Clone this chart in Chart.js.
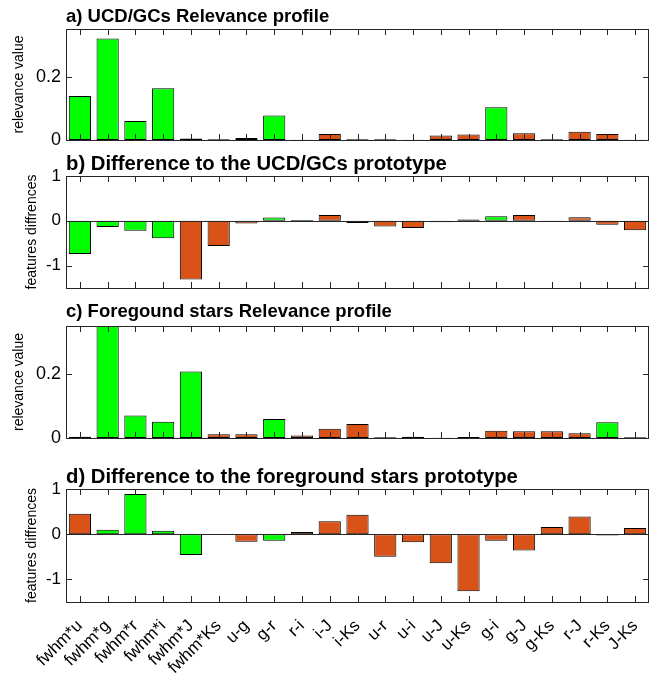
<!DOCTYPE html>
<html>
<head>
<meta charset="utf-8">
<script src="https://cdn.jsdelivr.net/npm/chart.js@4.4.0/dist/chart.umd.min.js"></script>
<style>
  html, body { margin: 0; padding: 0; background: #fff; }
  #wrap { position: relative; width: 650px; height: 676px; }
  .pane { position: absolute; left: 0; width: 650px; }
</style>
</head>
<body>
<div id="wrap">
  <div class="pane" style="top:0;height:150px"><canvas id="cA"></canvas></div>
  <div class="pane" style="top:150px;height:150px"><canvas id="cB"></canvas></div>
  <div class="pane" style="top:300px;height:150px"><canvas id="cC"></canvas></div>
  <div class="pane" style="top:450px;height:226px"><canvas id="cD"></canvas></div>
</div>
<script>
// ---------------- data ----------------
const categories = ['fwhm*u','fwhm*g','fwhm*r','fwhm*i','fwhm*J','fwhm*Ks','u-g','g-r','r-i','i-J','i-Ks',
                    'u-r','u-i','u-J','u-Ks','g-i','g-J','g-Ks','r-J','r-Ks','J-Ks'];

const relevanceUCD = [0.139, 0.320, 0.060, 0.163, 0.005, 0.002, 0.006, 0.077, 0.001, 0.019, 0.002,
                      0.002, 0.001, 0.014, 0.017, 0.103, 0.021, 0.002, 0.026, 0.019, 0.001];
const diffUCD      = [-0.74, -0.14, -0.22, -0.39, -1.31, -0.56, -0.06, 0.075, 0.02, 0.127, -0.05,
                      -0.13, -0.16, -0.03, 0.03, 0.10, 0.127, -0.02, 0.08, -0.09, -0.21];
// group 1 = first colour (green), group 2 = second colour (orange)
const groupUCD     = [1, 1, 1, 1, 2, 2, 2, 1, 2, 2, 2, 2, 2, 2, 2, 1, 2, 2, 2, 2, 2];

const relevanceFG  = [0.004, 0.37, 0.070, 0.051, 0.208, 0.012, 0.012, 0.059, 0.008, 0.029, 0.044,
                      0.002, 0.004, 0.001, 0.003, 0.023, 0.021, 0.021, 0.015, 0.049, 0.002];
const diffFG       = [0.45, 0.10, 0.89, 0.075, -0.46, -0.015, -0.165, -0.143, 0.05, 0.286, 0.43,
                      -0.50, -0.18, -0.64, -1.26, -0.143, -0.36, 0.158, 0.39, -0.03, 0.135];
const groupFG      = [2, 1, 1, 1, 1, 2, 2, 1, 2, 2, 2, 2, 2, 2, 2, 2, 2, 2, 2, 1, 2];

const yTicksRelevance = [0, 0.2];
const yTicksDiff      = [-1, 0, 1];

const panelTitles = ['a) UCD/GCs Relevance profile',
                     'b) Difference to the UCD/GCs prototype',
                     'c) Foregound stars Relevance profile',
                     'd) Difference to the foreground stars prototype'];
const yTitles = ['relevance value', 'features diffrences'];

// ---------------- styling ----------------
const GREEN = '#00ff00';
const ORANGE = '#d95319';
const AXIS = '#262626';
const FONT = '"Liberation Sans", Arial, Helvetica, sans-serif';
const groupColor = g => g === 1 ? GREEN : ORANGE;

const framePlugin = {
  id: 'frame',
  afterDatasetsDraw(chart, args, opts) {
    const { ctx, chartArea: a } = chart;
    const x = chart.scales.x, y = chart.scales.y;
    ctx.save();
    ctx.strokeStyle = AXIS;
    ctx.lineWidth = 1;
    ctx.beginPath();
    const y0 = Math.round(y.getPixelForValue(0)) + 0.5;
    ctx.moveTo(a.left, y0); ctx.lineTo(a.right, y0);
    for (let i = 0; i < x.ticks.length; i++) {
      const px = Math.round(x.getPixelForTick(i)) + 0.5;
      ctx.moveTo(px, a.top); ctx.lineTo(px, a.top + 6);
      ctx.moveTo(px, a.bottom); ctx.lineTo(px, a.bottom - 6);
    }
    for (let i = 0; i < y.ticks.length; i++) {
      const py = Math.round(y.getPixelForTick(i)) + 0.5;
      ctx.moveTo(a.left, py); ctx.lineTo(a.left + 6, py);
      ctx.moveTo(a.right, py); ctx.lineTo(a.right - 6, py);
    }
    ctx.stroke();
    const L = Math.round(a.left) + 0.5, T = Math.round(a.top) + 0.5;
    const R = Math.round(a.right) - 0.5, B = Math.round(a.bottom) + 0.5;
    ctx.strokeRect(L, T, R - L, B - T);
    ctx.fillStyle = '#000';
    ctx.font = 'bold ' + opts.size + 'px ' + FONT;
    ctx.textAlign = 'left';
    ctx.textBaseline = 'alphabetic';
    ctx.fillText(opts.text, a.left, a.top - opts.gap);
    ctx.restore();
  }
};

function makePanel(id, values, groups, yTicks, yMin, yMax, title, titleSize, titleGap, yTitle, yTitlePad, tickFont, pad, showX) {
  return new Chart(document.getElementById(id), {
    type: 'bar',
    data: {
      labels: categories,
      datasets: [{
        data: values,
        backgroundColor: groups.map(groupColor),
        borderColor: '#000',
        borderWidth: 1,
        borderSkipped: false,
        barPercentage: 0.8,
        categoryPercentage: 1.0
      }]
    },
    options: {
      responsive: true,
      maintainAspectRatio: false,
      animation: false,
      events: [],
      layout: { padding: { left: 0, right: 1, top: pad.top, bottom: pad.bottom } },
      plugins: {
        legend: { display: false },
        tooltip: { enabled: false },
        title: { display: false },
        frame: { text: title, gap: titleGap, size: titleSize }
      },
      scales: {
        x: {
          type: 'category',
          offset: true,
          grid: { display: false, drawTicks: false },
          border: { display: false },
          ticks: {
            display: showX,
            autoSkip: false,
            minRotation: 45,
            maxRotation: 45,
            padding: 14,
            color: '#000',
            font: { family: FONT, size: 17 }
          },
          afterFit(scale) {
            scale.height = showX ? pad.xHeight : 0;
            scale.paddingLeft = 0;
            scale.paddingRight = 0;
          }
        },
        y: {
          min: yMin,
          max: yMax,
          grid: { display: false, drawTicks: false },
          border: { display: false },
          ticks: {
            padding: 5,
            color: '#000',
            font: { family: FONT, size: tickFont },
            callback: v => String(v)
          },
          afterBuildTicks(scale) { scale.ticks = yTicks.map(v => ({ value: v })); },
          afterFit(scale) {
            scale.width = 66;
            scale.paddingTop = 0;
            scale.paddingBottom = 0;
          },
          title: {
            display: true,
            text: yTitle,
            color: '#000',
            font: { family: FONT, size: 14 },
            padding: { top: yTitlePad, bottom: 0 }
          }
        }
      }
    },
    plugins: [framePlugin]
  });
}

makePanel('cA', relevanceUCD, groupUCD, yTicksRelevance, 0, 0.35, panelTitles[0], 18.5, 7, yTitles[0], 11, 18,
          { top: 29, bottom: 10 }, false);
makePanel('cB', diffUCD, groupUCD, yTicksDiff, -1.5, 1, panelTitles[1], 20.3, 6, yTitles[1], 24, 17,
          { top: 26, bottom: 12 }, false);
makePanel('cC', relevanceFG, groupFG, yTicksRelevance, 0, 0.35, panelTitles[2], 18.5, 9, yTitles[0], 11, 18,
          { top: 26, bottom: 12 }, false);
makePanel('cD', diffFG, groupFG, yTicksDiff, -1.5, 1, panelTitles[3], 20.3, 6, yTitles[1], 24, 17,
          { top: 39, bottom: 0, xHeight: 74 }, true);
</script>
</body>
</html>
